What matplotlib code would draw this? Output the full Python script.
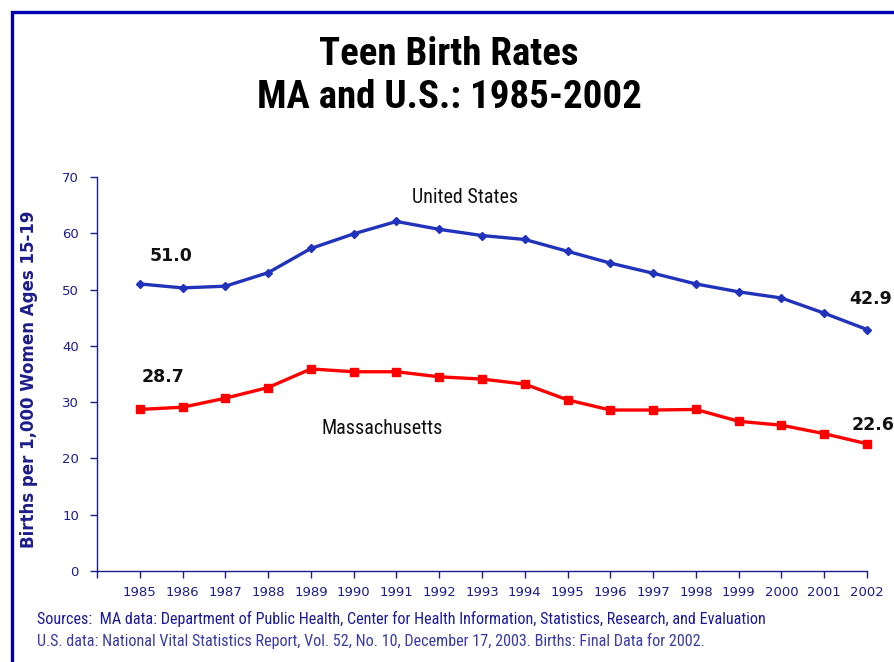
import matplotlib
matplotlib.use("Agg")
import matplotlib.pyplot as plt
from matplotlib.patches import Rectangle

years = list(range(1985, 2003))
us_rates = [51.0, 50.3, 50.6, 53.0, 57.3, 59.9, 62.1, 60.7, 59.6, 58.9,
            56.8, 54.7, 52.9, 51.0, 49.6, 48.5, 45.8, 42.9]
ma_rates = [28.7, 29.1, 30.7, 32.6, 35.9, 35.4, 35.4, 34.5, 34.1, 33.2,
            30.4, 28.6, 28.6, 28.7, 26.6, 25.9, 24.4, 22.6]
y_ticks = [0, 10, 20, 30, 40, 50, 60, 70]

title = "Teen Birth Rates\nMA and U.S.: 1985-2002"
ylabel = "Births per 1,000 Women Ages 15-19"
source1 = "Sources:  MA data: Department of Public Health, Center for Health Information, Statistics, Research, and Evaluation"
source2 = "U.S. data: National Vital Statistics Report, Vol. 52, No. 10, December 17, 2003. Births: Final Data for 2002."

narrow = "Roboto Condensed"
navy = "#1c1c8c"
us_color = "#2233bb"
ma_color = "#ff0000"

W, H = 894, 662
fig = plt.figure(figsize=(W / 100, H / 100), dpi=100)
fig.patch.set_facecolor("white")

# frame
fig.add_artist(Rectangle((12 / W, -0.05), 1.2, 1 - 12 / H + 0.05,
                         transform=fig.transFigure, fill=False,
                         edgecolor="#0000b0", linewidth=2.4))

ax = fig.add_axes([97 / W, 1 - 571 / H, (867 - 97) / W, (571 - 177) / H])
ax.plot(years, us_rates, color=us_color, lw=2.4, marker="D", ms=4.0,
        markeredgecolor=us_color, clip_on=False)
ax.plot(years, ma_rates, color=ma_color, lw=2.4, marker="s", ms=6.0,
        markeredgecolor=ma_color, clip_on=False)

ax.set_xlim(1984, 2002)
ax.set_ylim(0, 70)
ax.set_xticks(list(range(1984, 2003)))
ax.set_xticklabels([""] + [str(y) for y in years])
ax.set_yticks(y_ticks)
ax.set_yticklabels([str(v) for v in y_ticks])
for s in ["top", "right"]:
    ax.spines[s].set_visible(False)
for s in ["left", "bottom"]:
    ax.spines[s].set_color(navy)
    ax.spines[s].set_linewidth(1.0)
ax.tick_params(axis="both", direction="out", length=5, width=1.0,
               color=navy, labelcolor=navy, labelsize=9.5)
ax.tick_params(axis="x", pad=6)
ax.tick_params(axis="y", pad=8)
for lab in ax.get_xticklabels() + ax.get_yticklabels():
    lab.set_family("DejaVu Sans")

ax.set_ylabel(ylabel, fontsize=12, fontweight="bold", color=navy,
              family="DejaVu Sans")
ax.yaxis.set_label_coords(-0.0766, 0.487)

# series labels
ax.text(1992.6, 66.3, "United States", ha="center", va="center",
        fontsize=14.5, family=narrow, color="#111111")
ax.text(1990.67, 25.4, "Massachusetts", ha="center", va="center",
        fontsize=14.5, family=narrow, color="#111111")

# value labels
bold_kw = dict(fontsize=12.5, fontweight="bold", family="DejaVu Sans",
               color="#111111", va="center", ha="center")
ax.text(years[0] + 0.73, us_rates[0] + 5.0, f"{us_rates[0]:.1f}", **bold_kw)
ax.text(years[0] + 0.55, ma_rates[0] + 5.8, f"{ma_rates[0]:.1f}", **bold_kw)
ax.text(years[-1] + 0.09, us_rates[-1] + 5.4, f"{us_rates[-1]:.1f}", **bold_kw)
ax.text(years[-1] + 0.14, ma_rates[-1] + 3.3, f"{ma_rates[-1]:.1f}", **bold_kw)

fig.text(449 / W, 1 - 76 / H, title, ha="center", va="center",
         fontsize=28, fontweight="bold", family=narrow, color="black",
         linespacing=1.2)

fig.text(37 / W, 1 - 619 / H, source1, ha="left", va="center",
         fontsize=11.6, family=narrow, color="#1a1a9a")
fig.text(37 / W, 1 - 641 / H, source2, ha="left", va="center",
         fontsize=11.6, family=narrow, color="#3a3aa8")

fig.savefig("out.png", dpi=100, facecolor="white")
